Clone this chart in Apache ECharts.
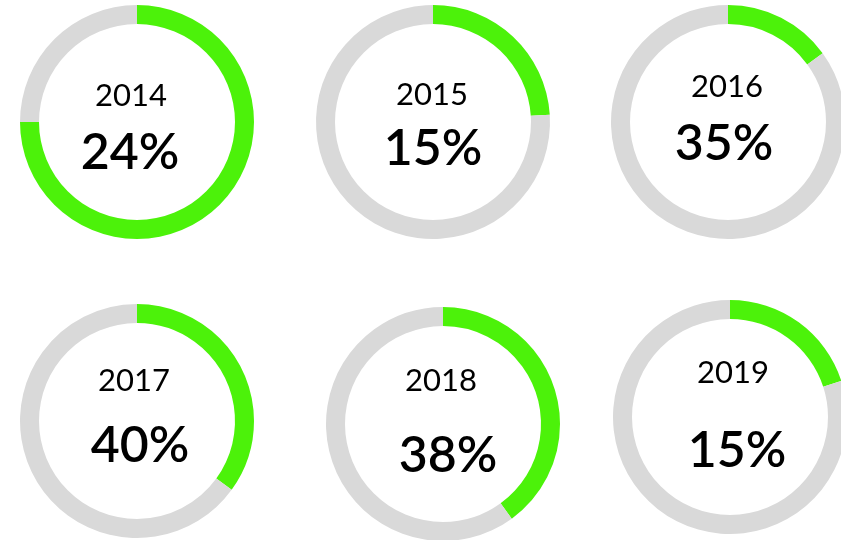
<!DOCTYPE html>
<html style="height: 100%">
<head>
    <meta charset="utf-8">
</head>
<body style="height: 100%; margin: 0; background: #fff">
<div id="container" style="width: 841px; height: 540px"></div>
<script type="text/javascript" src="https://cdn.jsdelivr.net/npm/echarts@6/dist/echarts.min.js"></script>
<script type="text/javascript">
// data
var years = ['2014', '2015', '2016', '2017', '2018', '2019'];
var labels = ['24%', '15%', '35%', '40%', '38%', '15%'];   // text in the middle
var arcValues = [75, 24, 15, 35, 40, 20];                 // green share of each ring

// layout of each ring
var centers = [[137, 122], [433, 122], [728, 122], [137, 421], [443, 424], [730, 417]];
var yearPos = [[131, 96], [432, 95], [727, 87], [134, 381], [441, 381], [733, 373]];
var pctPos = [[130, 153], [433, 149], [724, 144], [140, 446], [448, 456], [737, 451]];

var dom = document.getElementById('container');
var myChart = echarts.init(dom);

var series = [];
var graphic = [];
for (var i = 0; i < years.length; i++) {
    series.push({
        name: years[i],
        type: 'pie',
        center: centers[i],
        radius: [98, 117],
        startAngle: 90,
        clockwise: true,
        silent: true,
        label: {show: false},
        labelLine: {show: false},
        data: [
            {value: arcValues[i], itemStyle: {color: '#4cf20a'}},
            {value: 100 - arcValues[i], itemStyle: {color: '#d9d9d9'}}
        ]
    });
    graphic.push({
        type: 'text',
        x: yearPos[i][0],
        y: yearPos[i][1],
        style: {
            text: years[i],
            fill: '#000',
            font: '400 31px Lato',
            textAlign: 'center',
            textVerticalAlign: 'middle'
        }
    });
    graphic.push({
        type: 'text',
        x: pctPos[i][0],
        y: pctPos[i][1],
        style: {
            text: labels[i],
            fill: '#000',
            font: '600 50px Lato',
            textAlign: 'center',
            textVerticalAlign: 'middle'
        }
    });
}

var option = {
    animation: false,
    backgroundColor: '#fff',
    series: series,
    graphic: graphic
};

myChart.setOption(option);
</script>
</body>
</html>
